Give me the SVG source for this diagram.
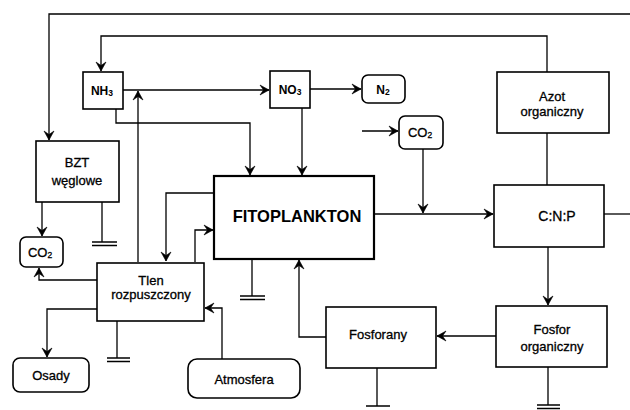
<svg xmlns="http://www.w3.org/2000/svg" width="630" height="410" viewBox="0 0 630 410">
<style>
  .box { fill: #fff; stroke: #000; stroke-width: 1.6; }
  .thick { stroke-width: 2.2; }
  .c { fill: none; stroke: #000; stroke-width: 1.3; }
  .arr { marker-end: url(#ah); }
  .t { font-family: "Liberation Sans", Arial, sans-serif; font-size: 13px; fill: #000; stroke: #000; stroke-width: 0.3; text-anchor: middle; }
  .b { font-weight: bold; stroke-width: 0; }
  .s12 { font-size: 12px; }
  .s14 { font-size: 14px; }
  .s16 { font-size: 16.5px; }
  .sub { font-size: 8.5px; }
</style>
<defs>
  <marker id="ah" viewBox="-10 -6 11 12" refX="0" refY="0" markerWidth="11" markerHeight="12" markerUnits="userSpaceOnUse" orient="auto">
    <path d="M-9,-5 L0,0 L-9,5 L-5.5,0 Z" fill="#000" stroke="#000" stroke-width="0.6" stroke-linejoin="miter"/>
  </marker>
</defs>

<g id="connectors">
  <path class="c arr" d="M630,14 H49 V140"/>
  <path class="c arr" d="M547,72 V36 H101 V71"/>
  <path class="c arr" d="M123,90 H269"/>
  <path class="c arr" d="M138,262 V91"/>
  <path class="c arr" d="M116,109 V123 H250 V175"/>
  <path class="c arr" d="M302,108 V175"/>
  <path class="c arr" d="M310,89 H361"/>
  <path class="c arr" d="M362,131 H398"/>
  <path class="c arr" d="M423,149 V213"/>
  <path class="c arr" d="M374,214 H493"/>
  <path class="c" d="M604,214 H630"/>
  <path class="c" d="M547,133 V185"/>
  <path class="c arr" d="M548,247 V305"/>
  <path class="c arr" d="M496,336 H437"/>
  <path class="c arr" d="M326,337 H299 V260"/>
  <path class="c arr" d="M214,193 H166 V261"/>
  <path class="c arr" d="M195,262 V230 H213"/>
  <path class="c arr" d="M222,359 V308 H205"/>
  <path class="c arr" d="M97,309 H47 V357"/>
  <path class="c arr" d="M97,280 H39 V268"/>
  <path class="c arr" d="M42,202 V236"/>
  <!-- grounds -->
  <path class="c" d="M102,202 V242 M92,242 H117 M92,245.5 H117"/>
  <path class="c" d="M252,259 V296 M240,296 H265 M240,299.5 H265"/>
  <path class="c" d="M117,321 V358 M107,358 H130 M107,361.5 H130"/>
  <path class="c" d="M377,368 V406 M366,406 H390"/>
  <path class="c" d="M548,366 V405 M537,405 H560 M537,408.5 H560"/>
</g>

<g id="nh3">
  <rect class="box" x="83" y="72" width="40" height="37"/>
  <text class="t b s12" x="102" y="95">NH<tspan class="sub" dy="0.5">3</tspan></text>
</g>
<g id="no3">
  <rect class="box" x="270" y="71" width="40" height="37"/>
  <text class="t b s12" x="290" y="94">NO<tspan class="sub" dy="0.5">3</tspan></text>
</g>
<g id="n2">
  <rect class="box" x="362" y="75" width="43" height="28" rx="6"/>
  <text class="t b s12" x="383" y="94">N<tspan class="sub" dy="0.5">2</tspan></text>
</g>
<g id="co2-right">
  <rect class="box" x="399" y="116" width="44" height="33" rx="6"/>
  <text class="t" x="420" y="137">CO<tspan class="sub" dy="0.5">2</tspan></text>
</g>
<g id="azot">
  <rect class="box" x="497" y="72" width="112" height="61"/>
  <text class="t" x="552" y="101">Azot</text>
  <text class="t" x="552" y="116">organiczny</text>
</g>
<g id="bzt">
  <rect class="box" x="36" y="141" width="83" height="61"/>
  <text class="t" x="77" y="167">BZT</text>
  <text class="t" x="77" y="185">węglowe</text>
</g>
<g id="fitoplankton">
  <rect class="box thick" x="214" y="176" width="160" height="83"/>
  <text class="t b s16" x="297" y="222">FITOPLANKTON</text>
</g>
<g id="cnp">
  <rect class="box" x="494" y="185" width="110" height="62"/>
  <text class="t s14" x="557" y="221">C:N:P</text>
</g>
<g id="co2-left">
  <rect class="box" x="20" y="237" width="43" height="30" rx="6"/>
  <text class="t" x="40" y="257">CO<tspan class="sub" dy="0.5">2</tspan></text>
</g>
<g id="tlen">
  <rect class="box" x="97" y="263" width="107" height="58"/>
  <text class="t" x="151" y="285">Tlen</text>
  <text class="t" x="151" y="299">rozpuszczony</text>
</g>
<g id="osady">
  <rect class="box" x="13" y="358" width="76" height="34" rx="7"/>
  <text class="t" x="51" y="380">Osady</text>
</g>
<g id="atmosfera">
  <rect class="box" x="188" y="359" width="112" height="39" rx="9"/>
  <text class="t" x="244" y="384">Atmosfera</text>
</g>
<g id="fosforany">
  <rect class="box" x="326" y="307" width="110" height="61"/>
  <text class="t" x="378" y="339">Fosforany</text>
</g>
<g id="fosfor-organiczny">
  <rect class="box" x="496" y="306" width="111" height="61"/>
  <text class="t" x="552" y="334">Fosfor</text>
  <text class="t" x="552" y="351">organiczny</text>
</g>
</svg>
